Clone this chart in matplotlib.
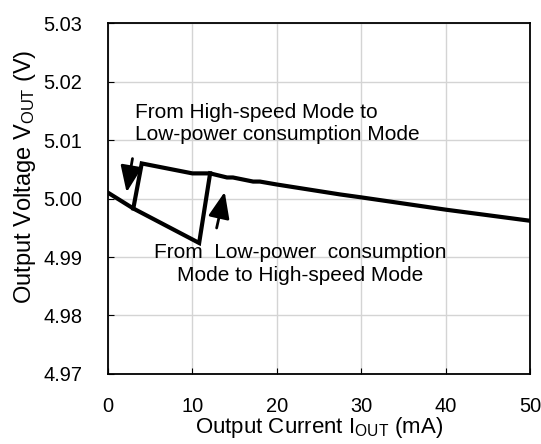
import matplotlib
matplotlib.use('Agg')
import matplotlib.pyplot as plt
from matplotlib.patches import Rectangle

plt.rcParams['font.family'] = ['Liberation Sans', 'DejaVu Sans']
plt.rcParams['mathtext.fontset'] = 'custom'
plt.rcParams['mathtext.rm'] = 'Liberation Sans'
plt.rcParams['mathtext.it'] = 'Liberation Sans'

# load sweep going up (current increasing)
i_up = [0, 3.0, 10.8, 12.1, 14.1, 14.8, 17.2, 18.0, 20.0, 27.5, 30.0, 40.0, 50.0]
v_up = [5.0010, 4.9983, 4.9924, 5.0043, 5.0036, 5.0036, 5.0029, 5.0029, 5.0024, 5.0007, 5.0002, 4.9981, 4.9962]

# load sweep going down (current decreasing)
i_down = [12.1, 10.0, 4.0, 3.0]
v_down = [5.0043, 5.0043, 5.0060, 4.9983]

x_ticks = [0, 10, 20, 30, 40, 50]
y_ticks = [4.97, 4.98, 4.99, 5.00, 5.01, 5.02, 5.03]

fig = plt.figure(figsize=(5.41, 4.44), dpi=100)
ax = fig.add_axes([0.1996, 0.1577, 0.7801, 0.7903])

ax.plot(i_up, v_up, color='black', lw=3.0, solid_joinstyle='miter', zorder=3)
ax.plot(i_down, v_down, color='black', lw=3.0, solid_joinstyle='miter', zorder=3)

ax.set_xlim(0, 50)
ax.set_ylim(4.97, 5.03)
ax.set_xticks(x_ticks)
ax.set_yticks(y_ticks)
ax.set_yticklabels(['%.2f' % v for v in y_ticks])
ax.grid(True, color='#d4d4d4', lw=1.0)
ax.set_axisbelow(True)

ax.tick_params(axis='x', direction='in', length=4, pad=16.5, labelsize=14.4)
ax.tick_params(axis='y', direction='in', length=4, pad=18.7, labelsize=14.4)
for s in ax.spines.values():
    s.set_linewidth(1.3)
    s.set_color('black')

ax.set_xlabel(r'Output Current I$_{\mathrm{OUT}}$ (mA)', fontsize=16)
ax.set_ylabel(r'Output Voltage V$_{\mathrm{OUT}}$ (V)', fontsize=17)
ax.xaxis.set_label_coords(0.5, -0.117)
ax.yaxis.set_label_coords(-0.165, 0.563)

# annotation 1, second line cut off at the 5.01 grid line
t1 = ax.text(3.2, 5.0100, 'From High-speed Mode to\nLow-power consumption Mode',
             fontsize=15, ha='left', va='baseline', linespacing=1.22)
clip = Rectangle((0, 5.01), 50, 0.02, transform=ax.transData)
t1.set_clip_path(clip)

ax.text(22.75, 4.9859, 'From  Low-power  consumption\nMode to High-speed Mode',
        fontsize=15, ha='center', va='baseline', linespacing=1.25)

arrow_kw = dict(arrowstyle='-|>,head_length=1.6,head_width=0.65', color='black', lw=2.0)
ax.annotate('', xy=(2.15, 5.0006), xytext=(2.96, 5.0073), arrowprops=arrow_kw)
ax.annotate('', xy=(13.9, 5.0016), xytext=(12.8, 4.9945), arrowprops=arrow_kw)

fig.savefig('out.png', dpi=100)
